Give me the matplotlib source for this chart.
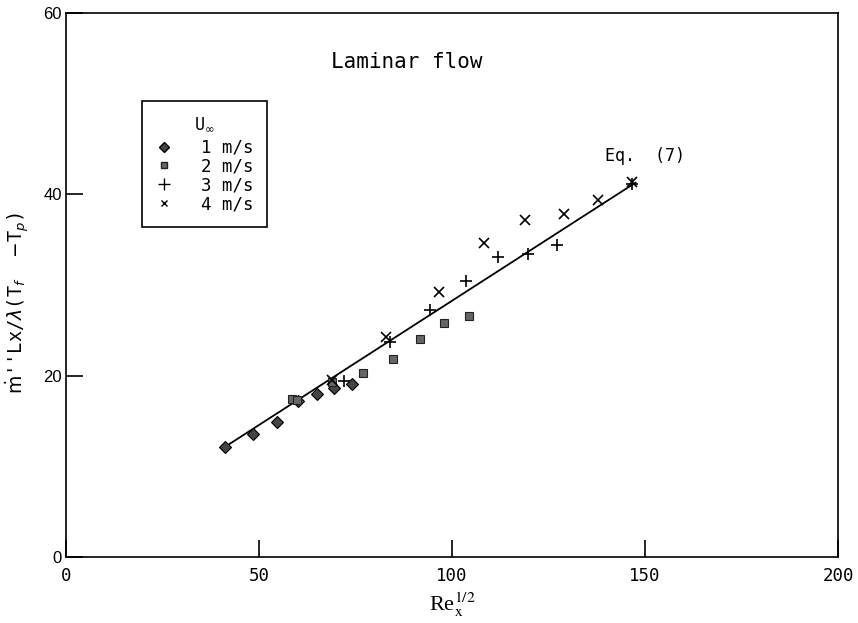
import numpy as np
import matplotlib
matplotlib.use('Agg')
import matplotlib.pyplot as plt
from matplotlib.lines import Line2D

# readings of the figure (Re_x^1/2 vs dimensionless burning rate)
u1_x = [41.2, 48.5, 54.7, 60.0, 65.1, 69.3, 74.2]
u1_y = [12.1, 13.6, 14.9, 17.2, 18.0, 18.6, 19.1]
u2_x = [58.6, 59.8, 68.8, 77.0, 84.8, 91.6, 98.0, 104.3]
u2_y = [17.4, 17.3, 19.3, 20.3, 21.9, 24.0, 25.8, 26.6]
u3_x = [71.9, 83.8, 94.2, 103.5, 111.8, 119.6, 127.1, 146.6]
u3_y = [19.4, 23.7, 27.2, 30.5, 33.1, 33.4, 34.4, 41.2]
u4_x = [68.8, 83.0, 96.5, 108.2, 118.8, 128.9, 137.7, 146.6]
u4_y = [19.5, 24.3, 29.2, 34.6, 37.2, 37.8, 39.4, 41.4]
eq_x = [41.0, 147.5]
eq_y = [12.1, 41.3]

labels = ['1 m/s', '2 m/s', '3 m/s', '4 m/s']
xticks = [0, 50, 100, 150, 200]
yticks = [0, 20, 40, 60]

mono = 'DejaVu Sans Mono'

fig = plt.figure(figsize=(8.58, 6.23), dpi=100)
ax = fig.add_axes([0.0769, 0.1059, 0.9, 0.873])

ax.plot(eq_x, eq_y, '-', color='black', lw=1.3)
ax.plot(u1_x, u1_y, 'D', ms=6.3, mfc='#444444', mec='black', mew=0.8, ls='none')
ax.plot(u2_x, u2_y, 's', ms=5.6, mfc='#666666', mec='#222222', mew=0.8, ls='none')
ax.plot(u3_x, u3_y, '+', ms=9, mec='black', mew=1.2, ls='none')
ax.plot(u4_x, u4_y, 'x', ms=6.5, mec='black', mew=1.2, ls='none')

ax.set_xlim(0, 200)
ax.set_ylim(0, 60)
ax.set_xticks(xticks)
ax.set_yticks(yticks)
ax.tick_params(direction='in', length=12, width=1.2)
ax.tick_params(axis='y', labelsize=12, pad=3)
ax.tick_params(axis='x', labelsize=12.5, pad=7)
for t in ax.get_yticklabels():
    t.set_family('Liberation Sans')
for t in ax.get_xticklabels():
    t.set_family(mono)
for s in ax.spines.values():
    s.set_linewidth(1.2)

ax.set_xlabel(r'Re$_{\rm x}^{1/2}$', fontsize=16, family='Liberation Serif',
              math_fontfamily='stix', labelpad=4)
ax.set_ylabel(r"$\dot{\rm m}$''Lx/$\lambda$(T$_f$  $-$T$_p$)", fontsize=13.5,
              family=mono, math_fontfamily='dejavusans')
ax.yaxis.set_label_coords(-0.044, 0.467)

ax.text(88.3, 54.6, 'Laminar flow', fontsize=15, family=mono, ha='center', va='center')
ax.text(139.5, 44.2, 'Eq.  (7)', fontsize=12, family=mono, ha='left', va='center')

handles = [
    Line2D([], [], marker='D', ms=5, mfc='#444444', mec='black', ls='none'),
    Line2D([], [], marker='s', ms=4.5, mfc='#666666', mec='#222222', ls='none'),
    Line2D([], [], marker='+', ms=8, mec='black', mew=1.0, ls='none'),
    Line2D([], [], marker='x', ms=5, mec='black', mew=1.0, ls='none'),
]
leg = ax.legend(handles, labels, title=r'U$_\infty$', loc='upper left',
                bbox_to_anchor=(0.098, 0.838), fancybox=False, framealpha=1,
                edgecolor='black', prop={'family': mono, 'size': 12.5},
                handlelength=1.0, handletextpad=1.6, labelspacing=0.05,
                borderpad=0.8, borderaxespad=0,
                title_fontproperties={'family': mono, 'size': 12})
leg.get_frame().set_linewidth(1.2)
leg._legend_box.sep = 4

fig.savefig('out.png', dpi=100)
